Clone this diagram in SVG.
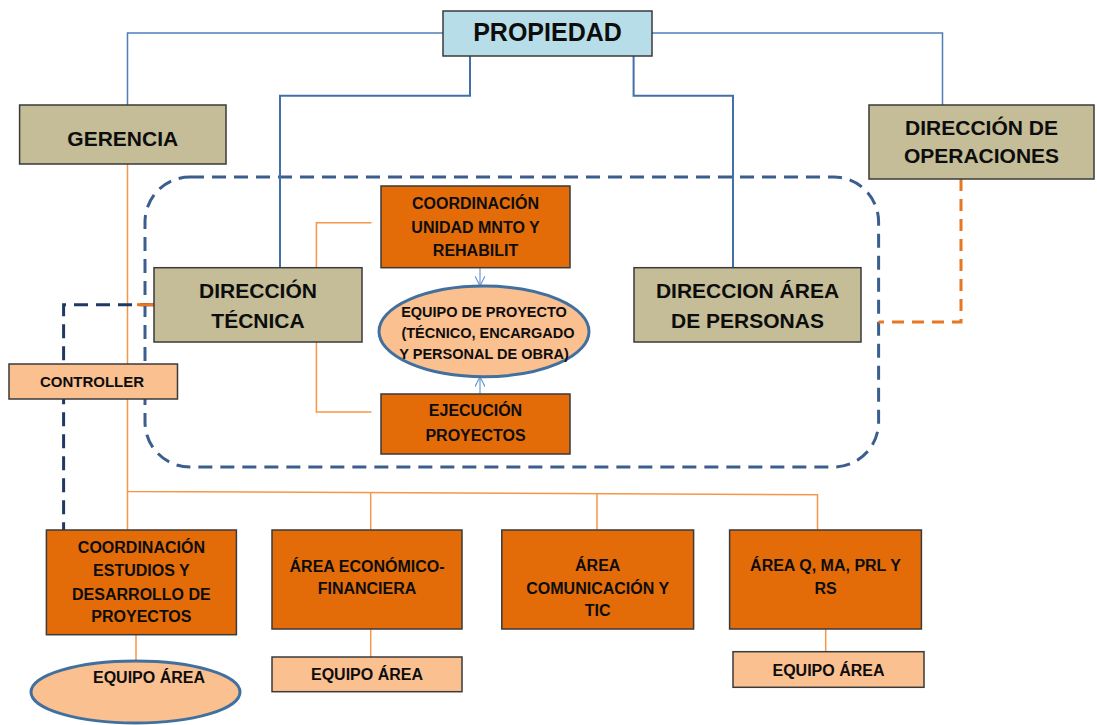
<svg xmlns="http://www.w3.org/2000/svg" width="1097" height="725" viewBox="0 0 1097 725">
<defs>
<style>
.box{stroke:#3a3a3a;stroke-width:1.5}
.tan{fill:#C4BD97}
.org{fill:#E36C09}
.peach{fill:#FAC090}
.blue{fill:#B7DEE8}
text{font-family:"Liberation Sans",Arial,sans-serif;font-weight:bold;fill:#0d0d0d;text-anchor:middle;dominant-baseline:central}
.t25{font-size:25px}
.t21{font-size:21px}
.t16{font-size:16px}
.t15{font-size:15px}
.t14{font-size:14.5px}
.bl{fill:none;stroke:#4F7DB8;stroke-width:1.5}
.bl2{fill:none;stroke:#4470A8;stroke-width:2}
.ol{fill:none;stroke:#F79646;stroke-width:1.5}
.ar{fill:none;stroke:#6A9AD0;stroke-width:1.2}
</style>
<marker id="open" viewBox="0 0 10 10" refX="10" refY="5" markerWidth="10" markerHeight="10" markerUnits="userSpaceOnUse" orient="auto">
<path d="M0,0 L10,5 L0,10" fill="none" stroke="#6A9AD0" stroke-width="1.2"/>
</marker>
</defs>
<g id="connectors">
<rect x="145" y="177" width="733.6" height="290" rx="45" ry="45" fill="none" stroke="#3B5E8F" stroke-width="3" stroke-dasharray="14 8"/>
<path class="bl" d="M443,33 H127.5 V105"/>
<path class="bl" d="M652,33 H942.5 V105"/>
<path class="bl2" d="M470,56 V95.7 H280 V267.7"/>
<path class="bl2" d="M633.6,56 V95.7 H733 V267.7"/>
<path d="M961,179 V322 H878.6" fill="none" stroke="#E87722" stroke-width="3" stroke-dasharray="12 8"/>
<path class="ol" d="M127.5,164 V491.5 L817.5,494.8 V530"/>
<path class="ol" d="M127.5,491.5 V530"/>
<path class="ol" d="M370.7,492.5 V530"/>
<path class="ol" d="M597,493.5 V530"/>
<path class="ol" d="M316.4,267.7 V222.7 H371.4"/>
<path class="ol" d="M316.4,342 V412 H371.4"/>
<path class="ol" d="M136,634.7 V660.7"/>
<path class="ol" d="M370.7,629 V657"/>
<path class="ol" d="M825.7,629 V651.7"/>
<path d="M154,304.7 H63.6 V530" fill="none" stroke="#1F3864" stroke-width="3" stroke-dasharray="14 8"/>
<path d="M137,304.7 H154" stroke="#E87722" stroke-width="3"/>
<path class="ar" d="M480,267.7 V286" marker-end="url(#open)"/>
<path class="ar" d="M480,394 V376.7" marker-end="url(#open)"/>
</g>
<g id="propiedad">
<rect class="box blue" x="443" y="11" width="209" height="45"/>
<text class="t25" x="547.5" y="32">PROPIEDAD</text>
</g>
<g id="gerencia">
<rect class="box tan" x="19.6" y="105" width="206.4" height="59"/>
<text class="t21" x="122.8" y="138">GERENCIA</text>
</g>
<g id="direccion-operaciones">
<rect class="box tan" x="869" y="105" width="225" height="74"/>
<text class="t21" x="981.5" y="127">DIRECCIÓN DE</text>
<text class="t21" x="981.5" y="155">OPERACIONES</text>
</g>
<g id="direccion-tecnica">
<rect class="box tan" x="154" y="267.7" width="208" height="74.3"/>
<text class="t21" x="258" y="290">DIRECCIÓN</text>
<text class="t21" x="258" y="320">TÉCNICA</text>
</g>
<g id="direccion-personas">
<rect class="box tan" x="634" y="267.7" width="227" height="74.3"/>
<text class="t21" x="747.5" y="290">DIRECCION ÁREA</text>
<text class="t21" x="747.5" y="320">DE PERSONAS</text>
</g>
<g id="coord-mnto">
<rect class="box org" x="381" y="186" width="189" height="81.7"/>
<text class="t16" x="475.5" y="203">COORDINACIÓN</text>
<text class="t16" x="475.5" y="227">UNIDAD MNTO Y</text>
<text class="t16" x="475.5" y="250">REHABILIT</text>
</g>
<g id="equipo-proyecto">
<ellipse cx="484" cy="331.4" rx="105" ry="45.3" fill="#FAC090" stroke="#41709F" stroke-width="3"/>
<text class="t14" x="484" y="311.7">EQUIPO DE PROYECTO</text>
<text class="t14" x="488" y="333">(TÉCNICO, ENCARGADO</text>
<text class="t14" x="484" y="354">Y PERSONAL DE OBRA)</text>
</g>
<g id="ejecucion">
<rect class="box org" x="381" y="394" width="189" height="60"/>
<text class="t16" x="475.5" y="410.7">EJECUCIÓN</text>
<text class="t16" x="475.5" y="435">PROYECTOS</text>
</g>
<g id="controller">
<rect class="box peach" x="9" y="364" width="168.5" height="35"/>
<text class="t15" x="92" y="381.7">CONTROLLER</text>
</g>
<g id="coord-estudios">
<rect class="box org" x="46.4" y="530" width="190" height="104.7"/>
<text class="t16" x="141.4" y="547.7">COORDINACIÓN</text>
<text class="t16" x="141.4" y="570.7">ESTUDIOS Y</text>
<text class="t16" x="141.4" y="594">DESARROLLO DE</text>
<text class="t16" x="141.4" y="616.7">PROYECTOS</text>
</g>
<g id="equipo-area-1">
<ellipse cx="135.5" cy="692" rx="104.5" ry="31" fill="#FAC090" stroke="#41709F" stroke-width="3"/>
<text class="t16" x="149" y="677">EQUIPO ÁREA</text>
</g>
<g id="area-economico">
<rect class="box org" x="272" y="530" width="190" height="99"/>
<text class="t16" x="367" y="566">ÁREA ECONÓMICO-</text>
<text class="t16" x="367" y="588">FINANCIERA</text>
</g>
<g id="equipo-area-2">
<rect class="box peach" x="272" y="657" width="190" height="34.7"/>
<text class="t16" x="367" y="674">EQUIPO ÁREA</text>
</g>
<g id="area-comunicacion">
<rect class="box org" x="501.8" y="530" width="191.8" height="99"/>
<text class="t16" x="597.7" y="565">ÁREA</text>
<text class="t16" x="597.7" y="588.3">COMUNICACIÓN Y</text>
<text class="t16" x="597.7" y="610.7">TIC</text>
</g>
<g id="area-q">
<rect class="box org" x="729.6" y="530" width="191.8" height="99"/>
<text class="t16" x="825.5" y="565.7">ÁREA Q, MA, PRL Y</text>
<text class="t16" x="825.5" y="588.3">RS</text>
</g>
<g id="equipo-area-3">
<rect class="box peach" x="733" y="651.7" width="191" height="35.6"/>
<text class="t16" x="828.5" y="670">EQUIPO ÁREA</text>
</g>
</svg>
